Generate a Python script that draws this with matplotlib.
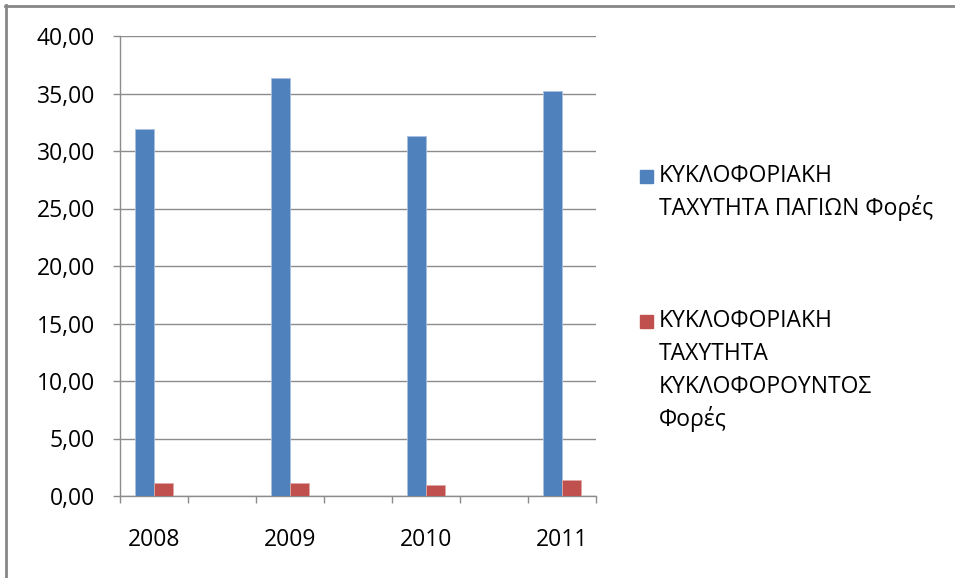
import matplotlib.pyplot as plt
from matplotlib.lines import Line2D
from matplotlib.patches import Rectangle
from matplotlib.ticker import FuncFormatter

plt.rcParams['font.family'] = ['Open Sans', 'DejaVu Sans']

# data
years = ['2008', '2009', '2010', '2011']
pagion = [31.9, 36.35, 31.3, 35.25]       # blue series
kykloforountos = [1.1, 1.1, 1.0, 1.37]    # red series
series_names = [['ΚΥΚΛΟΦΟΡΙΑΚΗ', 'ΤΑΧΥΤΗΤΑ ΠΑΓΙΩΝ Φορές'],
                ['ΚΥΚΛΟΦΟΡΙΑΚΗ', 'ΤΑΧΥΤΗΤΑ', 'ΚΥΚΛΟΦΟΡΟΥΝΤΟΣ', 'Φορές']]
colors = ['#4F81BD', '#C0504D']
grid_col = '#8C8C8C'
fs = 16.5

W, H = 955, 578
fig = plt.figure(figsize=(W / 100, H / 100), dpi=100)
ax = fig.add_axes([120 / W, (H - 496) / H, (596 - 120) / W, (496 - 36) / H])

# the years sit in every other category slot (7 slots in all)
pos = [2 * i for i in range(len(years))]
nslots = 2 * len(years) - 1
bw = 0.285
ax.bar([p - bw / 2 for p in pos], pagion, width=bw, color=colors[0],
       edgecolor='#A9C0E0', linewidth=0.6, zorder=3)
ax.bar([p + bw / 2 for p in pos], kykloforountos, width=bw, color=colors[1],
       edgecolor='#E0A9A8', linewidth=0.6, zorder=3)

ax.set_xlim(-0.5, nslots - 0.5)
ax.set_ylim(0, 40)
ax.set_yticks(range(0, 45, 5))
ax.yaxis.set_major_formatter(FuncFormatter(lambda v, _: f'{v:.2f}'.replace('.', ',')))
ax.grid(axis='y', color=grid_col, linewidth=1, zorder=0)

ax.set_xticks([x - 0.5 for x in range(nslots + 1)])
ax.set_xticklabels([])
ax.set_xticks(pos, minor=True)
ax.set_xticklabels(years, minor=True)
ax.tick_params(axis='x', which='minor', length=0, pad=23, labelsize=fs)
ax.tick_params(axis='x', which='major', length=5, color=grid_col, width=1)
ax.tick_params(axis='y', length=5, color=grid_col, width=1, pad=13, labelsize=fs)

for s in ['top', 'right']:
    ax.spines[s].set_visible(False)
for s in ['left', 'bottom']:
    ax.spines[s].set_color(grid_col)
    ax.spines[s].set_linewidth(1)

# legend drawn by hand so the marker sits by the first line
leg_y = [182, 327]
step = 33
for lines, col, y in zip(series_names, colors, leg_y):
    fig.add_artist(Rectangle((640 / W, (H - y - 1) / H), 13 / W, 13 / H,
                             transform=fig.transFigure, color=col))
    for k, line in enumerate(lines):
        fig.text(659 / W, (H - y - k * step) / H, line, fontsize=fs,
                 va='baseline', ha='left')

# chart frame
fig.add_artist(Line2D([5 / W, 1], [(H - 6) / H] * 2, color='#878787', lw=2,
                      transform=fig.transFigure))
fig.add_artist(Line2D([6 / W] * 2, [0, (H - 5) / H], color='#878787', lw=2,
                      transform=fig.transFigure))

fig.savefig('out.png', dpi=100)
